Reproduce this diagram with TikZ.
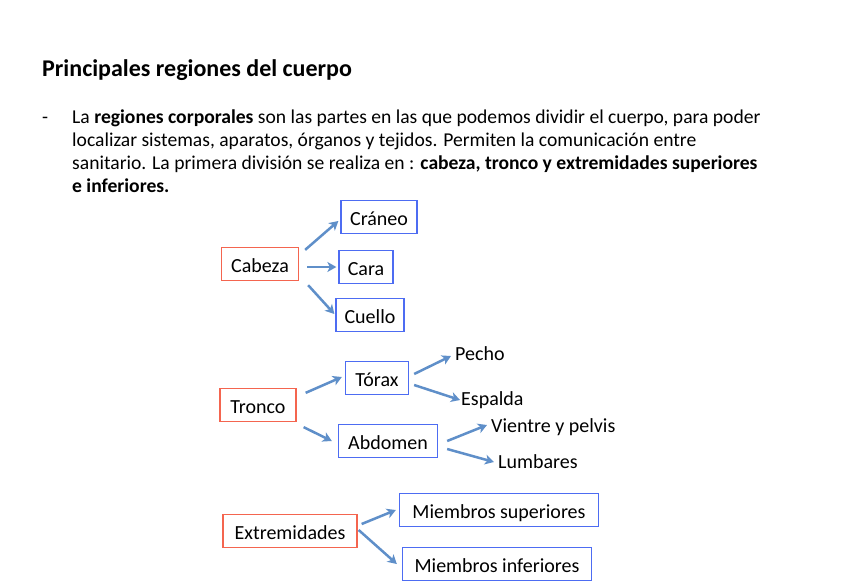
\documentclass[tikz,border=0pt]{standalone}
\usepackage{fontspec}
\setmainfont{Carlito}
\usetikzlibrary{arrows.meta,calc}
\definecolor{arr}{HTML}{5F8FC9}
\definecolor{redb}{HTML}{F4654F}
\definecolor{blueb}{HTML}{4D6CF2}
\tikzset{
  boxtext/.style={inner sep=0pt,text height=18pt,text depth=1.6pt,font=\fontsize{20}{22}\selectfont},
  redbox/.style={boxtext,draw=redb,line width=1.3pt,minimum height=33pt},
  bluebox/.style={boxtext,draw=blueb,line width=1.3pt,minimum height=33pt},
  plain/.style={inner sep=0pt,font=\fontsize{20}{22}\selectfont},
  bodyline/.style={anchor=base west,inner sep=0pt,font=\fontsize{19.6}{22}\selectfont},
  conn/.style={draw=arr,line width=2.5pt,-{Stealth[length=9pt,width=10pt,inset=2.5pt]}}
}
\begin{document}
\begin{tikzpicture}[x=1pt,y=-1pt]
\useasboundingbox (0,0) rectangle (848,587);
\fill[white] (0,0) rectangle (848,587);
% title and paragraph
\node[anchor=base west,inner sep=0pt,font=\fontsize{24}{27}\selectfont\bfseries] (title) at (42,76) {Principales regiones del cuerpo};
\node[bodyline] (dash) at (42,123) {-};
\node[bodyline] (l1) at (72,123) {La \textbf{regiones corporales} son las partes en las que podemos dividir el cuerpo, para poder};
\node[bodyline] (l2) at (72,146) {localizar sistemas, aparatos, órganos y tejidos. Permiten la comunicación entre};
\node[bodyline] (l3) at (72,169) {sanitario. La primera división se realiza en : \textbf{cabeza, tronco y extremidades superiores}};
\node[bodyline] (l4) at (72,192) {\textbf{e inferiores.}};
% Cabeza group
\node[redbox,minimum width=77pt] (cabeza) at (260,264) {Cabeza};
\node[bluebox,minimum width=76pt] (craneo) at (379,217) {Cráneo};
\node[bluebox,minimum width=54pt] (cara) at (366,267) {Cara};
\node[bluebox,minimum width=68pt] (cuello) at (370,315) {Cuello};
% Tronco group
\node[redbox,minimum width=76pt] (tronco) at (258,405) {Tronco};
\node[bluebox,minimum width=63pt] (torax) at (377,378) {Tórax};
\node[bluebox,minimum width=99pt] (abdomen) at (388,441) {Abdomen};
\node[plain,anchor=west] (pecho) at (455,354) {Pecho};
\node[plain,anchor=west] (espalda) at (461,400) {Espalda};
\node[plain,anchor=west] (vientre) at (491,427) {Vientre y pelvis};
\node[plain,anchor=west] (lumbares) at (498,462) {Lumbares};
% Extremidades group
\node[redbox,minimum width=134pt] (extrem) at (290,531) {Extremidades};
\node[bluebox,minimum width=199pt] (msup) at (499,510) {Miembros superiores};
\node[bluebox,minimum width=189pt] (minf) at (497,564) {Miembros inferiores};
% connectors
\draw[conn] ($(cabeza.north east)+(6,3)$) -- ($(craneo.west)+(-2,4)$);
\draw[conn] ($(cabeza.east)+(8,3)$) -- ($(cara.west)+(-2,0)$);
\draw[conn] ($(cabeza.south east)+(9,4)$) -- ($(cuello.west)+(-1,-1)$);
\draw[conn] ($(tronco.north east)+(9,5)$) -- ($(torax.west)+(-3,-1)$);
\draw[conn] ($(tronco.south east)+(7,5)$) -- ($(abdomen.west)+(-6,0)$);
\draw[conn] ($(torax.east)+(5,-4)$) -- ($(pecho.west)+(-4,2)$);
\draw[conn] ($(torax.east)+(5,7)$) -- ($(espalda.west)+(-1,0)$);
\draw[conn] ($(abdomen.east)+(9,0)$) -- ($(vientre.west)+(-4,-2)$);
\draw[conn] ($(abdomen.east)+(9,8)$) -- ($(lumbares.west)+(-4,0)$);
\draw[conn] ($(extrem.east)+(4,-7)$) -- ($(msup.west)+(-3,0)$);
\draw[conn] ($(extrem.east)+(1,-1)$) -- ($(minf.west)+(-5,0)$);
\end{tikzpicture}
\end{document}
